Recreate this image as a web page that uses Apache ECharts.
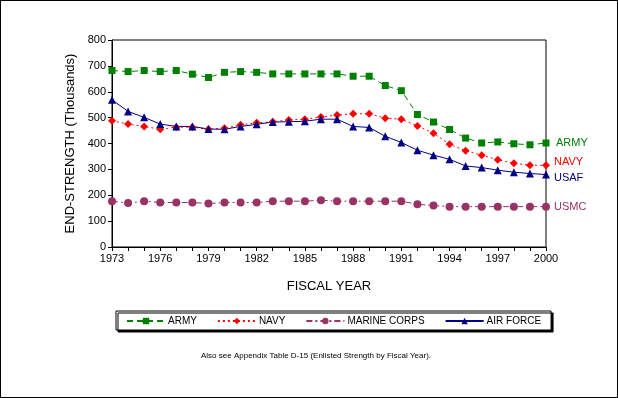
<!DOCTYPE html>
<html>
<head>
<meta charset="utf-8">
<script src="https://cdn.jsdelivr.net/npm/echarts@6/dist/echarts.min.js"></script>
<style>
html,body{margin:0;padding:0;background:#fff;}
#c{width:616px;height:396px;border:1px solid #000;}
</style>
</head>
<body>
<div id="c"></div>
<script>
var years = [];
for (var y = 1973; y <= 2000; y++) years.push(String(y));
var army = [682,678,682,678,682,668,655,675,678,675,669,669,669,669,669,660,660,624,604,512,483,454,421,402,406,399,395,402];
var navy = [488,475,466,455,463,463,455,459,472,480,484,491,494,502,510,515,515,498,494,468,440,397,372,355,337,324,316,316];
var marine = [177,170,177,172,172,172,168,172,172,172,177,177,177,181,177,177,177,177,177,165,160,156,156,156,156,156,156,156];
var airforce = [569,524,501,475,466,466,456,455,466,474,483,484,486,494,494,466,462,428,404,374,355,339,313,307,297,289,284,280];
var seriesNames = ['ARMY','NAVY','MARINE CORPS','AIR FORCE'];
var endNames = ['ARMY','NAVY','USMC','USAF'];
var yTicks = {min:0, max:800, interval:100};

var font = 'Liberation Sans, Arial, sans-serif';
function mk(name, data, color, symbol, size, ltype, endName, endOffset) {
  return {
    name: name, type: 'line', data: data, symbol: symbol, symbolSize: size,
    itemStyle: {color: color},
    lineStyle: {color: color, width: 1, type: ltype},
    emphasis: {disabled: true},
    animation: false,
    endLabel: {show: true, formatter: endName, color: color, fontFamily: font, fontSize: 11, offset: endOffset, distance: 8}
  };
}
var chart = echarts.init(document.getElementById('c'));
chart.setOption({
  animation: false,
  grid: {left: 111, right: 71, top: 39, bottom: 150, show: true, borderColor: '#000', borderWidth: 1},
  xAxis: {
    type: 'category', data: years, boundaryGap: false,
    name: 'FISCAL YEAR', nameLocation: 'middle', nameGap: 33,
    nameTextStyle: {fontFamily: font, fontSize: 13, color: '#000'},
    axisLine: {lineStyle: {color: '#000', width: 1}},
    axisTick: {interval: 0, length: 4, lineStyle: {color: '#000'}},
    axisLabel: {interval: 2, fontFamily: font, fontSize: 11, color: '#000', margin: 6},
    splitLine: {show: false}
  },
  yAxis: {
    type: 'value', min: yTicks.min, max: yTicks.max, interval: yTicks.interval,
    name: 'END-STRENGTH (Thousands)', nameLocation: 'middle', nameGap: 31,
    nameTextStyle: {fontFamily: font, fontSize: 13, color: '#000'},
    axisLine: {show: true, lineStyle: {color: '#000', width: 1}},
    axisTick: {show: true, length: 4, lineStyle: {color: '#000'}},
    axisLabel: {fontFamily: font, fontSize: 11, color: '#000', margin: 6},
    splitLine: {show: false}
  },
  legend: {
    left: 115, top: 310, width: 432, height: 14,
    padding: [5, 10, 4, 10],
    itemWidth: 38, itemHeight: 8, itemGap: 20,
    backgroundColor: '#fff', borderColor: '#000', borderWidth: 1,
    shadowColor: '#000', shadowBlur: 0, shadowOffsetX: 2, shadowOffsetY: 2,
    textStyle: {fontFamily: font, fontSize: 10, color: '#000', padding: [0,0,0,-2]},
    data: seriesNames
  },
  graphic: [{
    type: 'text', left: 200, top: 351,
    style: {text: 'Also see Appendix Table D-15 (Enlisted Strength by Fiscal Year).', font: '8px ' + font, fill: '#000'}
  }],
  series: [
    mk(seriesNames[0], army, '#008000', 'rect', 7, [6,4], endNames[0], [2, 0]),
    mk(seriesNames[1], navy, '#FF0000', 'diamond', 8, [2,3], endNames[1], [0, -3]),
    mk(seriesNames[2], marine, '#993366', 'circle', 8, [6,3,2,3], endNames[2], [0, 0]),
    mk(seriesNames[3], airforce, '#000080', 'triangle', 8, 'solid', endNames[3], [0, 3])
  ]
});
</script>
</body>
</html>
